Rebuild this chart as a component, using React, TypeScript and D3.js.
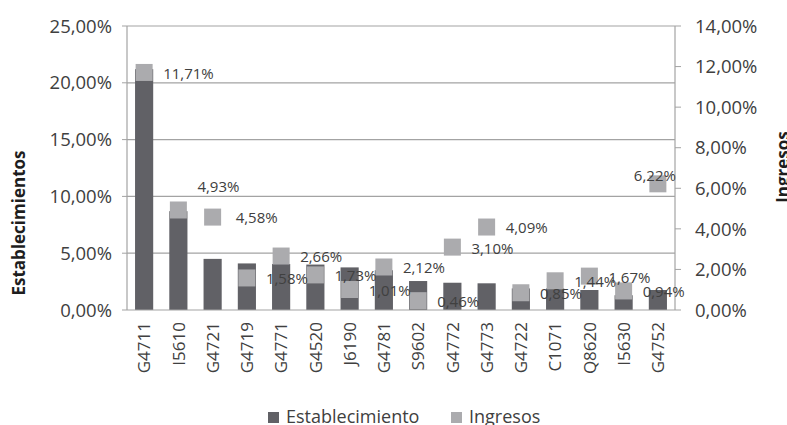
import { useEffect, useRef } from "react";
import * as d3 from "d3";

const categories = [
  "G4711", "I5610", "G4721", "G4719", "G4771", "G4520", "J6190", "G4781",
  "S9602", "G4772", "G4773", "G4722", "C1071", "Q8620", "I5630", "G4752",
];

// Establecimiento (left axis, %)
const establecimiento = [
  21.2, 8.7, 4.5, 4.1, 4.05, 4.0, 3.75, 3.5,
  2.55, 2.4, 2.35, 1.9, 1.9, 1.76, 1.3, 1.76,
];

// Ingresos (right axis, %)
const ingresos = [
  11.71, 4.93, 4.58, 1.58, 2.66, 1.73, 1.01, 2.12,
  0.46, 3.1, 4.09, 0.85, 1.44, 1.67, 0.94, 6.22,
];

const leftTicks = [0, 5, 10, 15, 20, 25];
const rightTicks = [0, 2, 4, 6, 8, 10, 12, 14];

const fmt = (v: number) => v.toFixed(2).replace(".", ",") + "%";

export default function App() {
  const svgRef = useRef<SVGSVGElement>(null);

  useEffect(() => {
    if (!svgRef.current) return;
    const svg = d3.select(svgRef.current);
    svg.selectAll("*").remove();

    const width = 787;
    const margin = { top: 26, right: 112, bottom: 115, left: 127 };
    const plotBottom = 425 - margin.bottom;
    const plotRight = width - margin.right;
    const font = "'Open Sans', sans-serif";
    const textColor = "#404040";
    const darkColor = "#616166";
    const lightColor = "#ababae";
    const lineColor = "#a3a3a3";

    const x = d3
      .scaleBand<string>()
      .domain(categories)
      .range([margin.left, plotRight])
      .paddingInner(0.47)
      .paddingOuter(0.235);

    const yLeft = d3.scaleLinear().domain([0, 25]).range([plotBottom, margin.top]);
    const yRight = d3.scaleLinear().domain([0, 14]).range([plotBottom, margin.top]);

    // Gridlines
    svg
      .append("g")
      .selectAll("line")
      .data(leftTicks.filter((t) => t > 0))
      .join("line")
      .attr("x1", margin.left)
      .attr("x2", plotRight)
      .attr("y1", (d) => yLeft(d))
      .attr("y2", (d) => yLeft(d))
      .attr("stroke", lineColor)
      .attr("stroke-width", 1.2);

    // Left axis
    const gl = svg.append("g");
    gl.append("line")
      .attr("x1", margin.left).attr("x2", margin.left)
      .attr("y1", margin.top).attr("y2", plotBottom)
      .attr("stroke", lineColor).attr("stroke-width", 1.2);
    gl.selectAll("line.tick")
      .data(leftTicks)
      .join("line")
      .attr("class", "tick")
      .attr("x1", margin.left - 5).attr("x2", margin.left)
      .attr("y1", (d) => yLeft(d)).attr("y2", (d) => yLeft(d))
      .attr("stroke", lineColor);
    gl.selectAll("text")
      .data(leftTicks)
      .join("text")
      .attr("x", 112)
      .attr("y", (d) => yLeft(d))
      .attr("dy", "0.36em")
      .attr("text-anchor", "end")
      .attr("font-family", font)
      .attr("font-size", 18.5)
      .attr("fill", textColor)
      .text((d) => fmt(d));

    // Right axis
    const gr = svg.append("g");
    gr.append("line")
      .attr("x1", plotRight).attr("x2", plotRight)
      .attr("y1", margin.top).attr("y2", plotBottom)
      .attr("stroke", lineColor).attr("stroke-width", 1.2);
    gr.selectAll("line.tick")
      .data(rightTicks)
      .join("line")
      .attr("class", "tick")
      .attr("x1", plotRight).attr("x2", plotRight + 6)
      .attr("y1", (d) => yRight(d)).attr("y2", (d) => yRight(d))
      .attr("stroke", lineColor);
    gr.selectAll("text")
      .data(rightTicks)
      .join("text")
      .attr("x", 695)
      .attr("y", (d) => yRight(d))
      .attr("dy", "0.36em")
      .attr("font-family", font)
      .attr("font-size", 18.5)
      .attr("fill", textColor)
      .text((d) => fmt(d));

    // Bars
    svg
      .append("g")
      .selectAll("rect")
      .data(categories)
      .join("rect")
      .attr("x", (d) => x(d)!)
      .attr("width", x.bandwidth())
      .attr("y", (d, i) => yLeft(establecimiento[i]))
      .attr("height", (d, i) => plotBottom - yLeft(establecimiento[i]))
      .attr("fill", darkColor);

    // Bottom axis line
    svg
      .append("line")
      .attr("x1", margin.left).attr("x2", plotRight)
      .attr("y1", plotBottom).attr("y2", plotBottom)
      .attr("stroke", lineColor).attr("stroke-width", 1.2);

    // Ingresos markers
    const size = 17;
    svg
      .append("g")
      .selectAll("rect")
      .data(categories)
      .join("rect")
      .attr("x", (d) => x(d)! + x.bandwidth() / 2 - size / 2)
      .attr("y", (d, i) => yRight(ingresos[i]) - size / 2)
      .attr("width", size)
      .attr("height", size)
      .attr("fill", lightColor);

    // Data labels (layout tweaks for a couple of points)
    const labelShift: Record<string, [number, number, string]> = {
      I5610: [19, -23, "start"],
      G4721: [23, 1, "start"],
      G4752: [-3, -8, "middle"],
    };
    svg
      .append("g")
      .selectAll("text")
      .data(categories)
      .join("text")
      .attr("x", (d) => x(d)! + x.bandwidth() / 2 + (labelShift[d]?.[0] ?? 19))
      .attr("y", (d, i) => yRight(ingresos[i]) + (labelShift[d]?.[1] ?? 1))
      .attr("dy", "0.36em")
      .attr("text-anchor", (d) => labelShift[d]?.[2] ?? "start")
      .attr("font-family", font)
      .attr("font-size", 15)
      .attr("fill", textColor)
      .text((d, i) => fmt(ingresos[i]));

    // Category labels
    svg
      .append("g")
      .selectAll("text")
      .data(categories)
      .join("text")
      .attr("transform", (d) => `translate(${x(d)! + x.bandwidth() / 2}, 322) rotate(-90)`)
      .attr("text-anchor", "end")
      .attr("dy", "0.36em")
      .attr("font-family", font)
      .attr("font-size", 17)
      .attr("fill", textColor)
      .text((d) => d);

    // Axis titles
    svg
      .append("text")
      .attr("transform", "translate(19, 223) rotate(-90)")
      .attr("text-anchor", "middle")
      .attr("dy", "0.36em")
      .attr("font-family", font)
      .attr("font-size", 17)
      .attr("font-weight", "bold")
      .attr("fill", "#1e1e1e")
      .text("Establecimientos");
    svg
      .append("text")
      .attr("transform", "translate(783, 167) rotate(-90)")
      .attr("text-anchor", "middle")
      .attr("dy", "0.36em")
      .attr("font-family", font)
      .attr("font-size", 17)
      .attr("font-weight", "bold")
      .attr("fill", "#1e1e1e")
      .text("Ingresos");

    // Legend
    const legend = [
      { label: "Establecimiento", color: darkColor, x: 268 },
      { label: "Ingresos", color: lightColor, x: 451 },
    ];
    const lg = svg.append("g");
    legend.forEach((item) => {
      lg.append("rect")
        .attr("x", item.x)
        .attr("y", 412)
        .attr("width", 11)
        .attr("height", 11)
        .attr("fill", item.color);
      lg.append("text")
        .attr("x", item.x + 18)
        .attr("y", 423)
        .attr("font-family", font)
        .attr("font-size", 18)
        .attr("fill", textColor)
        .text(item.label);
    });
  }, []);

  return (
    <svg
      ref={svgRef}
      width={787}
      height={425}
      style={{ position: "absolute", left: 0, top: 0, background: "#fff" }}
    />
  );
}
